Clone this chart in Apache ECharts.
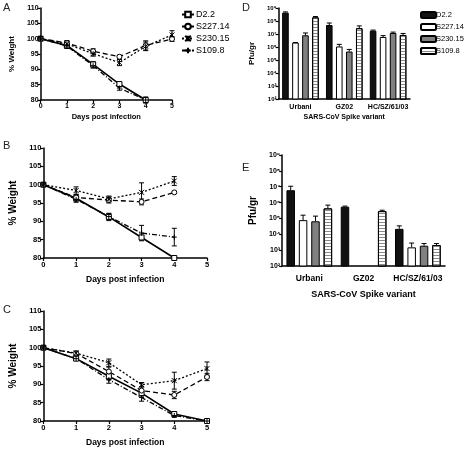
<!DOCTYPE html>
<html><head><meta charset="utf-8">
<script src="https://cdn.jsdelivr.net/npm/echarts@6/dist/echarts.min.js"></script>
<style>
html,body{margin:0;padding:0;background:#fff;}
#L{position:absolute;left:0;top:0;width:240px;height:449px;}
#R{position:absolute;left:240px;top:0;width:224px;height:449px;}
</style></head>
<body><div id="L"></div><div id="R"></div>
<script>
// ---------- data ----------
const days = [0, 1, 2, 3, 4, 5];
const strains = ['D2.2', 'S227.14', 'S230.15', 'S109.8'];
const yTicksWeight = [80, 85, 90, 95, 100, 105, 110];

// Panel A (% weight)
const A_D22 = [100, 97.8, 91.6, 85.2, 80, null];
const A_S227 = [100, 98.6, 95.9, 94.1, 97.8, 99.9];
const A_S230 = [100, 98.3, 95.1, 92.2, 97.5, 101.2];
const A_S109 = [100, 97.6, 91.2, 83.9, 80, null];
const A_D22_sd = [0, 0.8, 0.9, 0.6, 0.4, null];
const A_S227_sd = [0, 0.8, 0.8, 0.5, 1.5, 0.8];
const A_S230_sd = [0, 0.8, 0.8, 1.0, 1.4, 1.4];
const A_S109_sd = [0, 0.8, 0.8, 0.7, 1.0, null];

// Panel B
const B_D22 = [100, 96.3, 91.2, 85.6, 80, null];
const B_S227 = [100, 96.5, 95.8, 95.3, 97.9, null];
const B_S230 = [100, 98.4, 96.1, 97.9, 101.0, null];
const B_S109 = [100, 96.0, 91.3, 86.8, 85.7, null];
const B_D22_sd = [0, 0.8, 1.0, 0.6, 0.3, null];
const B_S227_sd = [0, 0.8, 0.8, 0.8, 0.3, null];
const B_S230_sd = [0, 1.0, 0.8, 2.6, 1.2, null];
const B_S109_sd = [0, 0.8, 0.8, 2.1, 2.4, null];

// Panel C
const C_D22 = [100, 97.0, 92.2, 87.6, 81.9, 80];
const C_S227 = [100, 98.4, 93.5, 88.3, 87.1, 92.0];
const C_S230 = [100, 98.5, 95.9, 89.9, 91.0, 94.3];
const C_S109 = [100, 97.0, 91.3, 86.4, 81.5, 80];
const C_D22_sd = [0, 0.5, 1.0, 0.8, 0.5, 0.2];
const C_S227_sd = [0, 0.5, 1.2, 1.0, 1.0, 1.0];
const C_S230_sd = [0, 0.6, 1.0, 0.6, 2.3, 1.8];
const C_S109_sd = [0, 0.5, 1.0, 1.0, 0.5, 0];

// Panels D, E (Pfu/gr)
const variants = ['Urbani', 'GZ02', 'HC/SZ/61/03'];
const D_D22 = [4.4e8, 4.9e7, 1.8e7];
const D_S227 = [2.2e6, 1.1e6, 5.9e6];
const D_S230 = [8.0e6, 4.5e5, 1.2e7];
const D_S109 = [1.9e8, 2.8e7, 8.4e6];
const D_D22_up = [5.0e8, 7.0e7, 2.0e7];
const D_S227_up = [2.2e6, 1.6e6, 7.5e6];
const D_S230_up = [1.2e7, 6.5e5, 1.4e7];
const D_S109_up = [2.2e8, 4.2e7, 1.1e7];

const E_D22 = [6.0e6, 5.5e5, 2.2e4];
const E_S227 = [7.8e4, null, 1.5e3];
const E_S230 = [6.6e4, null, 1.9e3];
const E_S109 = [4.3e5, 2.9e5, 2.1e3];
const E_D22_up = [1.07e7, 6.0e5, 3.4e4];
const E_S227_up = [1.6e5, null, 2.8e3];
const E_S230_up = [1.4e5, null, 2.6e3];
const E_S109_up = [6.9e5, 3.3e5, 2.6e3];

// ---------- styles ----------
const FONT = 'Liberation Sans, Arial, sans-serif';
const axLine = {show: true, onZero: false, lineStyle: {color: '#000', width: 1.5}};
const axTick = {show: true, length: 3, lineStyle: {color: '#000', width: 1.2}};
function lab(sz, m) { return {color: '#000', fontSize: sz, fontWeight: 'bold', fontFamily: FONT, margin: m}; }
function nameSt(sz) { return {color: '#000', fontSize: sz, fontWeight: 'bold', fontFamily: FONT}; }

const lineStyles = [
  {type: 'solid', sym: 'rect', fill: '#fff'},
  {type: [5, 3], sym: 'circle', fill: '#fff'},
  {type: [2, 2], sym: 'path://M0,0L10,10M10,0L0,10M5,0L5,10', fill: 'none'},
  {type: [5, 2, 1, 2], sym: 'path://M5,0L5,10M0,5L10,5', fill: 'none'}
];

// ---------- left chart: weight curves ----------
const L = echarts.init(document.getElementById('L'));
const panels = [
  {vals: [A_D22, A_S227, A_S230, A_S109], sd: [A_D22_sd, A_S227_sd, A_S230_sd, A_S109_sd], labSz: 7, nameX: 7.5, nameY: 8, gx: 13, gy: 17},
  {vals: [B_D22, B_S227, B_S230, B_S109], sd: [B_D22_sd, B_S227_sd, B_S230_sd, B_S109_sd], labSz: 7.5, nameX: 8.5, nameY: 10, gx: 17, gy: 20},
  {vals: [C_D22, C_S227, C_S230, C_S109], sd: [C_D22_sd, C_S227_sd, C_S230_sd, C_S109_sd], labSz: 7.5, nameX: 8.5, nameY: 10, gx: 17, gy: 20}
];
const grids = [
  {left: 33, top: 8, width: 139, height: 92},
  {left: 40, top: 148, width: 167, height: 110},
  {left: 40, top: 311, width: 167, height: 110}
];
const xAxes = [], yAxes = [], series = [];
panels.forEach((p, i) => {
  xAxes.push({gridIndex: i, type: 'value', min: days[0], max: days[days.length - 1], interval: 1,
    axisLine: axLine, axisTick: axTick, splitLine: {show: false}, axisLabel: lab(p.labSz, 3),
    name: 'Days post infection', nameLocation: 'middle', nameGap: p.gx, nameTextStyle: nameSt(p.nameX)});
  yAxes.push({gridIndex: i, type: 'value', min: yTicksWeight[0], max: yTicksWeight[yTicksWeight.length - 1], interval: 5,
    axisLine: axLine, axisTick: axTick, splitLine: {show: false}, axisLabel: lab(p.labSz, 2),
    name: '% Weight', nameLocation: 'middle', nameGap: p.gy, nameRotate: 90, nameTextStyle: nameSt(p.nameY)});
  p.vals.forEach((arr, k) => {
    const st = lineStyles[k];
    const data = [];
    arr.forEach((v, d) => { if (v != null) data.push([days[d], v]); });
    const errData = [];
    arr.forEach((v, d) => { if (v != null && p.sd[k][d]) errData.push([days[d], v - p.sd[k][d], v + p.sd[k][d]]); });
    series.push({type: 'custom', xAxisIndex: i, yAxisIndex: i, silent: true, z: 3, data: errData,
      renderItem: (params, api) => {
        const a = api.coord([api.value(0), api.value(1)]);
        const b = api.coord([api.value(0), api.value(2)]);
        const s = {stroke: '#000', lineWidth: 1};
        return {type: 'group', children: [
          {type: 'line', shape: {x1: a[0], y1: a[1], x2: b[0], y2: b[1]}, style: s},
          {type: 'line', shape: {x1: a[0] - 2.5, y1: a[1], x2: a[0] + 2.5, y2: a[1]}, style: s},
          {type: 'line', shape: {x1: b[0] - 2.5, y1: b[1], x2: b[0] + 2.5, y2: b[1]}, style: s}
        ]};
      }});
    series.push({type: 'line', name: strains[k], xAxisIndex: i, yAxisIndex: i, data: data, z: 4,
      symbol: st.sym, symbolSize: 5, showAllSymbol: true, animation: false,
      lineStyle: {color: '#000', width: k === 0 ? 1.6 : 1.3, type: st.type},
      itemStyle: {color: st.fill === 'none' ? '#000' : st.fill, borderColor: '#000', borderWidth: 1}});
  });
});
L.setOption({
  animation: false,
  grid: grids, xAxis: xAxes, yAxis: yAxes, series: series,
  legend: {show: true, left: 181, top: 10, padding: 0, orient: 'vertical', itemWidth: 12, itemHeight: 7, itemGap: 3,
    data: strains, textStyle: {fontSize: 9, fontFamily: FONT, color: '#000', padding: [0, 0, 0, -3]}, selectedMode: false},
  graphic: [
    {type: 'text', left: 3, top: 2, style: {text: 'A', fontSize: 11, fontFamily: FONT, fill: '#222'}},
    {type: 'text', left: 3, top: 140, style: {text: 'B', fontSize: 11, fontFamily: FONT, fill: '#222'}},
    {type: 'text', left: 3, top: 304, style: {text: 'C', fontSize: 11, fontFamily: FONT, fill: '#222'}}
  ]
});

// ---------- right chart: titers ----------
const R = echarts.init(document.getElementById('R'));
const supMap = {'0': '⁰', '1': '¹', '2': '²', '3': '³', '4': '⁴', '5': '⁵', '6': '⁶', '7': '⁷', '8': '⁸', '9': '⁹'};
function pow10(v) { const e = String(Math.round(Math.log10(v))); return '10' + e.split('').map(c => supMap[c]).join(''); }
const barPanels = [
  {vals: [D_D22, D_S227, D_S230, D_S109], up: [D_D22_up, D_S227_up, D_S230_up, D_S109_up], bw: 6.6, step: 10, labSz: 6, catSz: 7, nameSz: 7, gx: 15, gy: 16, catM: 5},
  {vals: [E_D22, E_S227, E_S230, E_S109], up: [E_D22_up, E_S227_up, E_S230_up, E_S109_up], bw: 8.5, step: 12.4, labSz: 7, catSz: 8.5, nameSz: 9, gx: 24, gy: 20, catM: 8}
];
const rGrids = [
  {left: 33, top: 8, width: 137, height: 91},
  {left: 39, top: 155, width: 166, height: 111}
];
const barFills = [
  {color: '#111', borderColor: '#000', borderWidth: 1},
  {color: '#fff', borderColor: '#000', borderWidth: 1},
  {color: '#808080', borderColor: '#000', borderWidth: 1},
  {color: '#fff', borderColor: '#000', borderWidth: 1,
    decal: {symbol: 'rect', symbolSize: 1, dashArrayX: [1, 0], dashArrayY: [1, 1.5], rotation: 0, color: '#8a8a8a'}}
];
const rx = [], ry = [], rs = [];
barPanels.forEach((p, i) => {
  rx.push({gridIndex: i, type: 'category', data: variants, axisLine: axLine, axisTick: {show: false},
    axisLabel: {color: '#000', fontSize: p.catSz, fontWeight: 'bold', fontFamily: FONT, margin: p.catM, interval: 0, hideOverlap: false},
    name: 'SARS-CoV Spike variant', nameLocation: 'middle', nameGap: p.gx, nameTextStyle: nameSt(p.nameSz)});
  ry.push({gridIndex: i, type: 'log', logBase: 10, min: 1e2, max: 1e9, splitNumber: 7,
    axisLine: axLine, axisTick: axTick, splitLine: {show: false}, minorTick: {show: false},
    axisLabel: {color: '#000', fontSize: p.labSz, fontWeight: 'bold', fontFamily: FONT, margin: 2, formatter: pow10},
    name: 'Pfu/gr', nameLocation: 'middle', nameGap: p.gy, nameRotate: 90, nameTextStyle: nameSt(p.nameSz + 1)});
  p.vals.forEach((arr, k) => {
    rs.push({type: 'bar', name: strains[k], xAxisIndex: i, yAxisIndex: i, data: arr.map(v => v == null ? '-' : v),
      barWidth: p.bw, barGap: ((p.step - p.bw) / p.bw * 100) + '%', itemStyle: barFills[k], animation: false});
  });
  p.vals.forEach((arr, k) => {
    const ed = [];
    arr.forEach((v, c) => { if (v != null && p.up[k][c] != null) ed.push([c, v, p.up[k][c], k]); });
    rs.push({type: 'custom', xAxisIndex: i, yAxisIndex: i, silent: true, z: 3, data: ed,
      renderItem: (params, api) => {
        const a = api.coord([api.value(0), api.value(1)]);
        const b = api.coord([api.value(0), api.value(2)]);
        const x = a[0] + (api.value(3) - 1.5) * p.step;
        const s = {stroke: '#000', lineWidth: 1};
        return {type: 'group', children: [
          {type: 'line', shape: {x1: x, y1: a[1], x2: x, y2: b[1]}, style: s},
          {type: 'line', shape: {x1: x - 2.5, y1: b[1], x2: x + 2.5, y2: b[1]}, style: s}
        ]};
      }});
  });
});
R.setOption({
  animation: false,
  grid: rGrids, xAxis: rx, yAxis: ry, series: rs,
  legend: {show: true, left: 180, top: 11, padding: 0, orient: 'vertical', itemWidth: 15, itemHeight: 6, itemGap: 4,
    data: strains, textStyle: {fontSize: 7.5, fontFamily: FONT, color: '#000', padding: [0, 0, 0, -5]}, selectedMode: false},
  graphic: [
    {type: 'text', left: 2, top: 2, style: {text: 'D', fontSize: 11, fontFamily: FONT, fill: '#222'}},
    {type: 'text', left: 2, top: 162, style: {text: 'E', fontSize: 11, fontFamily: FONT, fill: '#222'}}
  ]
});
</script></body></html>
